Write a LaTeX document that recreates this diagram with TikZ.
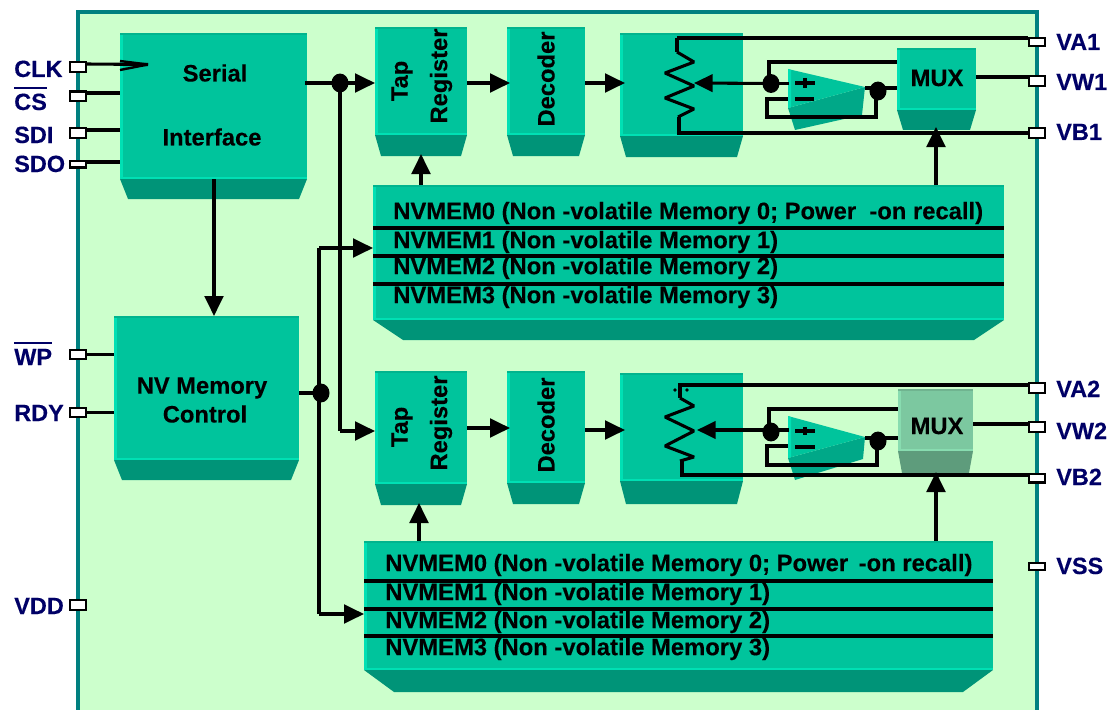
\documentclass[tikz,border=0pt]{standalone}
\usepackage{fontspec}
\setmainfont[BoldFeatures={FakeBold=0.25}]{Liberation Sans}
\usetikzlibrary{arrows.meta,shapes.geometric}
\definecolor{panelfill}{HTML}{CCFFCC}
\definecolor{panelline}{HTML}{008080}
\definecolor{faceC}{HTML}{00C49C}
\definecolor{liteC}{HTML}{00E0B4}
\definecolor{topC}{HTML}{00B48E}
\definecolor{lowC}{HTML}{009478}
\definecolor{ampC}{HTML}{00A888}
\definecolor{muxface}{HTML}{7CC8A0}
\definecolor{muxlite}{HTML}{88DCB0}
\definecolor{muxtop}{HTML}{70B490}
\definecolor{muxlow}{HTML}{5E9C7C}
\definecolor{navy}{HTML}{000066}
\tikzset{
  wire/.style={draw=black,line width=2.3pt},
  arrowwire/.style={wire,-{Triangle[length=15pt,width=14pt]}},
  smallarrow/.style={wire,-{Triangle[length=14pt,width=13pt]}},
  pinbox/.style={draw=black,fill=white,line width=1.8pt,inner sep=0pt,minimum width=12pt},
  dot/.style={ellipse,fill=black,inner sep=0pt,minimum width=12.8pt,minimum height=14.2pt},
  pinlabel/.style={anchor=base west,text=navy,font=\fontsize{17.6}{20}\selectfont\bfseries,inner sep=0pt},
  blocktext/.style={text=black,font=\fontsize{17.8}{20}\selectfont\bfseries,inner sep=0pt},
  memtext/.style={anchor=west,text=black,font=\fontsize{17.85}{20}\selectfont\bfseries,inner sep=0pt},
  blockface/.style={inner sep=0pt,outer sep=0pt},
}
\newcommand{\ovl}[1]{\vbox{\hrule height 1.5pt\kern 3.6pt\hbox{#1}}}
\newcommand{\blkc}[9]{%
  \pgfmathsetmacro{\bw}{(#4-#2)*0.75}\pgfmathsetmacro{\bh}{(#5-#3)*0.75}%
  \fill[#9] (#2,#5) -- (#4,#5) -- ({#4-#6},{#5+#7}) -- ({#2+#6},{#5+#7}) -- cycle;
  \node[blockface,fill=#8,minimum width=\bw pt,minimum height=\bh pt] (#1) at ({(#2+#4)/2},{(#3+#5)/2}) {};
}
\newcommand{\blk}[7]{%
  \blkc{#1}{#2}{#3}{#4}{#5}{#6}{#7}{faceC}{lowC}%
  \fill[liteC] (#2,#3) rectangle ({#2+2.5},#5);
  \fill[liteC] (#2,{#5-2}) rectangle (#4,#5);
  \fill[topC] (#2,#3) rectangle (#4,{#3+2});
}
\newcommand{\pin}[3]{\node[pinbox,minimum height=#3*0.75pt-1.8pt] (#1) at (#2) {};}
\begin{document}
\begin{tikzpicture}[x=0.75pt,y=-0.75pt]
\useasboundingbox (0,0) rectangle (1118,710);
% panel
\fill[panelfill] (78,12) rectangle (1037,720);
\draw[panelline,line width=2.4pt] (78,720) -- (78,12) -- (1037,12) -- (1037,720);

% blocks
\blk{serial}{120}{33}{307}{179}{8}{20}
\blk{nvctl}{114}{316}{299}{460}{8}{20}
\blk{tapA}{375}{27}{467}{135}{6}{21}
\blk{decA}{507}{27}{585}{135}{6}{21}
\blk{potA}{620}{33}{743}{136}{6}{21}
\blk{muxA}{897}{48}{976}{110}{6}{20}
\blk{memA}{373}{185}{1004}{320}{30}{20}
\blk{tapB}{375}{371}{467}{484}{6}{21}
\blk{decB}{507}{371}{585}{483}{6}{21}
\blk{potB}{620}{373}{743}{481}{6}{23}
\blkc{muxB}{898}{389}{973}{451}{4}{22}{muxface}{muxlow}
\fill[muxlite] (898,389) rectangle (900.5,451);
\fill[muxlite] (898,449) rectangle (973,451);
\fill[muxtop] (898,389) rectangle (973,391);
\blk{memB}{364}{541}{993}{670}{30}{22}

% amplifiers
\fill[ampC] (788,108) -- (865,87) -- (862,115) -- (795,130) -- cycle;
\fill[faceC] (788,69) -- (865,87) -- (788,108) -- cycle;
\fill[liteC] (788,69) -- (791,70) -- (791,107) -- (788,108) -- cycle;
\fill[ampC] (788,458) -- (865,437) -- (863,459) -- (795,480) -- cycle;
\fill[faceC] (788,416) -- (865,437) -- (788,458) -- cycle;
\fill[liteC] (788,416) -- (791,417) -- (791,457) -- (788,458) -- cycle;

% block texts
\node[blocktext] (tSerial) at (215,73) {Serial};
\node[blocktext] (tInterface) at (212,137) {Interface};
\node[blocktext] (tNVa) at (202,388) {NV Memory};
\node[blocktext] (tNVb) at (205,414) {Control};
\node[blocktext,rotate=90] (tTapA) at (402,81) {Tap};
\node[blocktext,rotate=90] (tRegA) at (441,76) {Register};
\node[blocktext,rotate=90] (tDecA) at (546,79) {Decoder};
\node[blocktext,rotate=90] (tTapB) at (402,427) {Tap};
\node[blocktext,rotate=90] (tRegB) at (441,423) {Register};
\node[blocktext,rotate=90] (tDecB) at (546,425) {Decoder};
\node[blocktext] (tMuxA) at (937,78) {MUX};
\node[blocktext] (tMuxB) at (937,426) {MUX};

% memory texts and rules
\node[memtext] (mA0) at (393,213) {NVMEM0 (Non -volatile Memory 0; Power\hspace{5pt} -on recall)};
\node[memtext] (mA1) at (393,242) {NVMEM1 (Non -volatile Memory 1)};
\node[memtext] (mA2) at (393,268) {NVMEM2 (Non -volatile Memory 2)};
\node[memtext] (mA3) at (393,297) {NVMEM3 (Non -volatile Memory 3)};
\node[memtext] (mB0) at (385,565) {NVMEM0 (Non -volatile Memory 0; Power\hspace{3pt} -on recall)};
\node[memtext] (mB1) at (385,594) {NVMEM1 (Non -volatile Memory 1)};
\node[memtext] (mB2) at (385,622) {NVMEM2 (Non -volatile Memory 2)};
\node[memtext] (mB3) at (385,649) {NVMEM3 (Non -volatile Memory 3)};
\foreach \yy in {228,256,284} \draw[wire] (373,\yy) -- (1004,\yy);
\foreach \yy in {581,609,636} \draw[wire] (364,\yy) -- (993,\yy);

% pins
\pin{pCLK}{78,67}{12}
\pin{pCS}{78,96.5}{12}
\pin{pSDI}{78,133}{12}
\pin{pSDO}{78,164}{9}
\pin{pWP}{78,354.5}{11}
\pin{pRDY}{78,412.5}{11}
\pin{pVDD}{78,605}{12}
\pin{pVAa}{1037,42}{10}
\pin{pVWa}{1037,81}{12}
\pin{pVBa}{1037,133}{12}
\pin{pVAb}{1037,388}{12}
\pin{pVWb}{1037,427}{12}
\pin{pVBb}{1037,478}{11}
\pin{pVSS}{1037,566.5}{9}

% pin labels
\node[pinlabel] (lCLK) at (14,77) {CLK};
\node[pinlabel] (lCS) at (14,110) {\ovl{CS}};
\node[pinlabel] (lSDI) at (14,143) {SDI};
\node[pinlabel] (lSDO) at (14,172) {SDO};
\node[pinlabel] (lWP) at (14,365) {\ovl{WP}};
\node[pinlabel] (lRDY) at (14,421) {RDY};
\node[pinlabel] (lVDD) at (14,614) {VDD};
\node[pinlabel] (lVAa) at (1056,50) {VA1};
\node[pinlabel] (lVWa) at (1056,90) {VW1};
\node[pinlabel] (lVBa) at (1056,140) {VB1};
\node[pinlabel] (lVAb) at (1056,397) {VA2};
\node[pinlabel] (lVWb) at (1056,439) {VW2};
\node[pinlabel] (lVBb) at (1056,485) {VB2};
\node[pinlabel] (lVSS) at (1056,574) {VSS};

% left pins into blocks
\coordinate (clkIn) at (87,64);
\coordinate (clkTip) at (148,64.5);
\draw[wire] (clkIn) -- (clkTip);
\draw[wire,line width=1.8pt,line join=bevel] (120,61) -- (clkTip) -- (120,70);
\coordinate (csIn) at (87,93);
\draw[wire] (csIn) -- (csIn -| serial.west);
\coordinate (sdiIn) at (87,130);
\draw[wire] (sdiIn) -- (sdiIn -| serial.west);
\draw[wire] (pSDO.east) ++(0,-2) coordinate (sdoIn) -- (sdoIn -| serial.west);
\draw[wire] (pWP.east) -- (pWP.east -| nvctl.west);
\draw[wire] (pRDY.east) -- (pRDY.east -| nvctl.west);

% serial bus
\node[dot] (dotBus) at (340,83) {};
\coordinate (busOut) at (305,83);
\draw[wire] (busOut) -- (dotBus.center);
\draw[arrowwire] (dotBus.center) -- (busOut -| tapA.west);
\coordinate (busDown) at (340,431);
\draw[wire] (dotBus.center) -- (busDown);
\draw[arrowwire] (busDown) -- (busDown -| tapB.west);
\coordinate (serOut) at (214,179);
\draw[arrowwire] (serOut) -- (serOut |- nvctl.north);

% NV control bus
\node[dot] (dotNV) at (321,393) {};
\coordinate (nvOut) at (299,393);
\draw[wire] (nvOut) -- (dotNV.center);
\coordinate (nvTop) at (319,248);
\coordinate (nvBot) at (319,614);
\draw[wire] (nvTop) -- (nvBot);
\draw[arrowwire] (nvTop) -- (nvTop -| memA.west);
\draw[arrowwire] (nvBot) -- (nvBot -| memB.west);

% memory to tap / mux
\coordinate (mAt) at (421,185);
\draw[arrowwire] (mAt) -- (421,154);
\coordinate (mBt) at (419,541);
\draw[arrowwire] (mBt) -- (419,503);
\coordinate (mAm) at (936,185);
\draw[arrowwire] (mAm) -- (936,127);
\coordinate (mBm) at (936,541);
\draw[arrowwire] (mBm) -- (936,472);

% upper chain
\coordinate (c1) at (467,83);
\draw[arrowwire] (c1) -- (510,83);
\coordinate (c2) at (585,83);
\draw[arrowwire] (c2) -- (625,83);
% lower chain
\coordinate (c3) at (467,428);
\draw[arrowwire] (c3) -- (510,428);
\coordinate (c4) at (585,430);
\draw[arrowwire] (c4) -- (625,430);

% upper pot
\coordinate (vaA) at (677,38);
\draw[wire] (vaA) -- (vaA -| pVAa.west);
\draw[wire] (677,38) -- (677,52);
\draw[wire,line join=bevel] (677,52) -- (694,62) -- (665,73) -- (694,86) -- (665,98) -- (694,109) -- (678,117);
\coordinate (vbA) at (679,133);
\draw[wire] (679,117) -- (vbA) -- (vbA -| pVBa.west);
% upper wiper and amp
\node[dot] (dA1) at (771,83.5) {};
\draw[smallarrow] (dA1.center) -- (694,83);
\draw[wire] (dA1.center) -- (789,83.5);
\coordinate (fbA) at (769,62);
\draw[wire] (dA1.center -| fbA) -- (fbA) -- (fbA -| muxA.west);
\node[dot] (dA2) at (878,91) {};
\coordinate (ampAo) at (865,88);
\draw[wire] (ampAo) -- (ampAo -| muxA.west);
\draw[wire] (795,83) -- (815,83);
\draw[wire] (805,78) -- (805,88);
\draw[wire] (795,99) -- (814,99);
\draw[wire] (788,99) -- (767,99) -- (767,117) -- (876,117) -- (876,91);
\coordinate (muxAo) at (976,77);
\draw[wire] (muxAo) -- (muxAo -| pVWa.west);

% lower pot
\coordinate (vaB) at (680,385);
\draw[wire] (vaB) -- (vaB -| pVAb.west);
\draw[wire] (680,383) -- (680,398);
\fill (675,390) circle (1.8);
\fill (687,390) circle (1.8);
\draw[wire,line join=bevel] (680,398) -- (694,406) -- (665,417) -- (694,431) -- (665,446) -- (694,457) -- (680,461);
\coordinate (vbB) at (682,475);
\draw[wire] (682,461) -- (vbB) -- (vbB -| pVBb.west);
% lower wiper and amp
\node[dot] (dB1) at (771,432) {};
\draw[smallarrow] (771,430) -- (697,430);
\draw[wire] (771,430) -- (789,430);
\coordinate (fbB) at (769,409);
\draw[wire] (dB1.center -| fbB) -- (fbB) -- (fbB -| muxB.west);
\node[dot] (dB2) at (878,441) {};
\coordinate (ampBo) at (865,438);
\draw[wire] (ampBo) -- (ampBo -| muxB.west);
\draw[wire] (795,431) -- (815,431);
\draw[wire] (805,427) -- (805,435);
\draw[wire] (795,447) -- (815,447);
\draw[wire] (788,446) -- (767,446) -- (767,465) -- (877,465) -- (877,441);
\coordinate (muxBo) at (973,424);
\draw[wire] (muxBo) -- (muxBo -| pVWb.west);
\end{tikzpicture}
\end{document}
